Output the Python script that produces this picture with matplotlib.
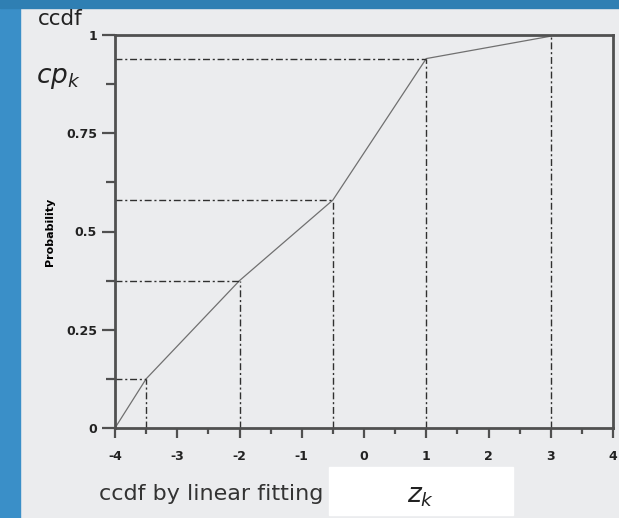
import matplotlib
matplotlib.use("Agg")
import matplotlib.pyplot as plt
from matplotlib.patches import Rectangle

plt.rcParams['axes.unicode_minus'] = False

# ccdf knots (z_k, cp_k)
zk = [-4, -3.5, -2, -0.5, 1, 3]
cpk = [0.0, 0.125, 0.375, 0.58, 0.94, 0.997]
xticks = [-4, -3, -2, -1, 0, 1, 2, 3, 4]
yticks = [0, 0.25, 0.5, 0.75, 1]
yticklabels = ['0', '0.25', '0.5', '0.75', '1']

fig = plt.figure(figsize=(6.19, 5.18), dpi=100)
fig.patch.set_facecolor('#EBECEE')
# slide background strips
fig.patches.append(Rectangle((0, 0), 20/619, 1, transform=fig.transFigure,
                             color='#3A8FC8', zorder=0))
fig.patches.append(Rectangle((0, 1-8/518), 1, 8/518, transform=fig.transFigure,
                             color='#2F7FB3', zorder=0))
# white box behind z_k
fig.patches.append(Rectangle((329/619, 3/518), 184/619, 48/518, transform=fig.transFigure,
                             color='white', zorder=0))

ax = fig.add_axes([115/619, 1-428/518, 498/619, 393/518])
ax.set_facecolor('#EBECEE')
ax.plot(zk, cpk, color='#707070', lw=0.9)
dd = (0, (5, 2, 1.5, 2))
for x, y in zip(zk[1:-1], cpk[1:-1]):
    ax.plot([-4, x], [y, y], color='#303030', lw=1.0, ls=dd)
for x, y in zip(zk[1:], cpk[1:]):
    ax.plot([x, x], [0, y], color='#303030', lw=1.0, ls=dd)

ax.set_xlim(-4, 4)
ax.set_ylim(0, 1)
ax.set_xticks(xticks)
ax.set_xticks([-3.5, -2.5, -1.5, -0.5, 0.5, 1.5, 2.5, 3.5], minor=True)
ax.set_yticks(yticks)
ax.set_yticklabels(yticklabels)
ax.set_yticks([0.125, 0.375, 0.625, 0.875], minor=True)
ax.tick_params(which='both', width=1.6, color='#505050', labelsize=9,
               labelcolor='#222222')
ax.tick_params(axis='x', which='major', length=7.5, pad=8)
ax.tick_params(axis='x', which='minor', length=4.5)
ax.tick_params(axis='y', which='major', length=9.5, pad=3.5)
ax.tick_params(axis='y', which='minor', length=6.5)
for lab in ax.get_xticklabels() + ax.get_yticklabels():
    lab.set_fontweight('bold')
for s in ax.spines.values():
    s.set_color('#505050')
    s.set_linewidth(2.0)

ax.set_ylabel('Probability', fontsize=8, fontweight='bold', labelpad=8)

fig.text(60/619, 1-19/518, 'ccdf', fontsize=15.5, color='#222222', va='center', ha='center')
fig.text(58/619, 1-78/518, r'$cp_k$', fontsize=19, color='#222222', va='center', ha='center')
fig.text(99/619, 1-494/518, 'ccdf by linear fitting', fontsize=16, color='#333333', va='center')
fig.text(421/619, 1-496/518, r'$z_k$', fontsize=19, color='#222222', va='center', ha='center')

fig.savefig('out.png', dpi=100, facecolor=fig.get_facecolor())
